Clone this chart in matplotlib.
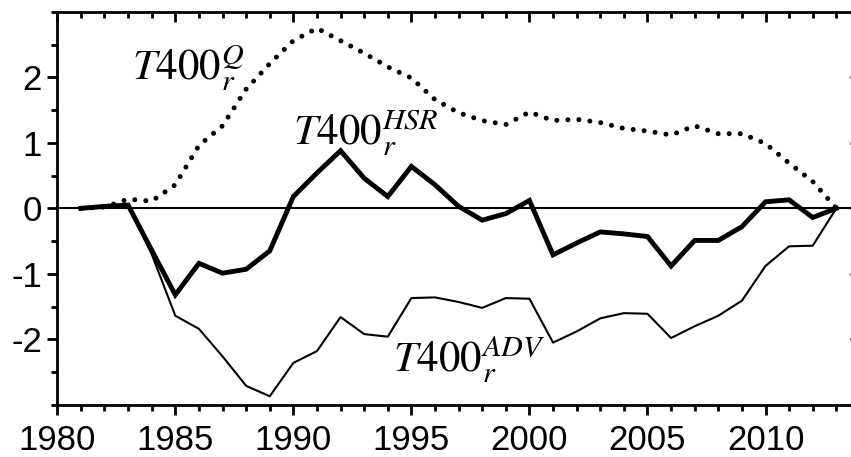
import numpy as np
import matplotlib
matplotlib.use("Agg")
import matplotlib.pyplot as plt
from matplotlib.ticker import MultipleLocator

plt.rcParams['font.family'] = ['Liberation Sans', 'DejaVu Sans']
plt.rcParams['mathtext.fontset'] = 'stix'
plt.rcParams['axes.unicode_minus'] = False

# data
years = list(range(1981, 2014))
hsr = [0.0, 0.03, 0.05, -0.64, -1.32, -0.84, -0.99, -0.93, -0.65, 0.18,
       0.54, 0.88, 0.46, 0.18, 0.64, 0.36, 0.03, -0.18, -0.08, 0.12,
       -0.71, -0.53, -0.36, -0.39, -0.43, -0.88, -0.49, -0.49, -0.28, 0.10,
       0.13, -0.14, 0.0]
adv = [0.0, 0.02, 0.05, -0.70, -1.64, -1.84, -2.26, -2.71, -2.87, -2.36,
       -2.18, -1.66, -1.92, -1.96, -1.37, -1.36, -1.43, -1.52, -1.37, -1.38,
       -2.05, -1.88, -1.68, -1.60, -1.61, -1.98, -1.80, -1.64, -1.41, -0.88,
       -0.58, -0.57, 0.0]
q = [0.0, 0.02, 0.14, 0.11, 0.36, 0.96, 1.26, 1.82, 2.21, 2.56,
     2.75, 2.56, 2.37, 2.16, 1.99, 1.66, 1.46, 1.34, 1.28, 1.47,
     1.34, 1.36, 1.31, 1.22, 1.18, 1.12, 1.26, 1.14, 1.14, 0.99,
     0.69, 0.41, 0.0]
yticks = [-2, -1, 0, 1, 2]

fig = plt.figure(figsize=(8.51, 4.57), dpi=100)
ax = fig.add_axes([0.0673, 0.1142, 0.9432, 0.8598])

ax.axhline(0, color='black', lw=1.5, zorder=1)
ax.plot(years, q, color='black', lw=3.6, linestyle=(0, (0.01, 2.2)),
        dash_capstyle='round')
ax.plot(years, adv, color='black', lw=1.5)
ax.plot(years, hsr, color='black', lw=3.5, solid_joinstyle='miter')

ax.set_xlim(1980, 2014)
ax.set_ylim(-3, 3)
ax.xaxis.set_major_locator(MultipleLocator(5))
ax.xaxis.set_minor_locator(MultipleLocator(1))
ax.set_yticks(yticks)
ax.yaxis.set_minor_locator(MultipleLocator(0.5))

for s in ax.spines.values():
    s.set_linewidth(2)

ax.tick_params(which='both', direction='out', width=2, labelsize=25,
               top=False, right=False)
ax.tick_params(which='major', length=7)
ax.tick_params(which='minor', length=4)
ax.tick_params(axis='x', pad=7)
ax.tick_params(axis='y', pad=4)

# top and right ticks point inward
top = ax.secondary_xaxis('top')
top.xaxis.set_major_locator(MultipleLocator(5))
top.xaxis.set_minor_locator(MultipleLocator(1))
top.tick_params(which='both', direction='in', width=2, labeltop=False)
top.tick_params(which='major', length=7)
top.tick_params(which='minor', length=4)
right = ax.secondary_yaxis('right')
right.yaxis.set_major_locator(MultipleLocator(1))
right.yaxis.set_minor_locator(MultipleLocator(0.5))
right.tick_params(which='both', direction='in', width=2, labelright=False)
right.tick_params(which='major', length=7)
right.tick_params(which='minor', length=4)

ax.text(1983.17, 1.96, r'$T400_r^{Q}$', fontsize=31, va='baseline', ha='left')
ax.text(1989.99, 0.97, r'$T400_r^{HSR}$', fontsize=31, va='baseline', ha='left')
ax.text(1994.22, -2.50, r'$T400_r^{ADV}$', fontsize=31, va='baseline', ha='left')

fig.savefig('out.png', dpi=100)
